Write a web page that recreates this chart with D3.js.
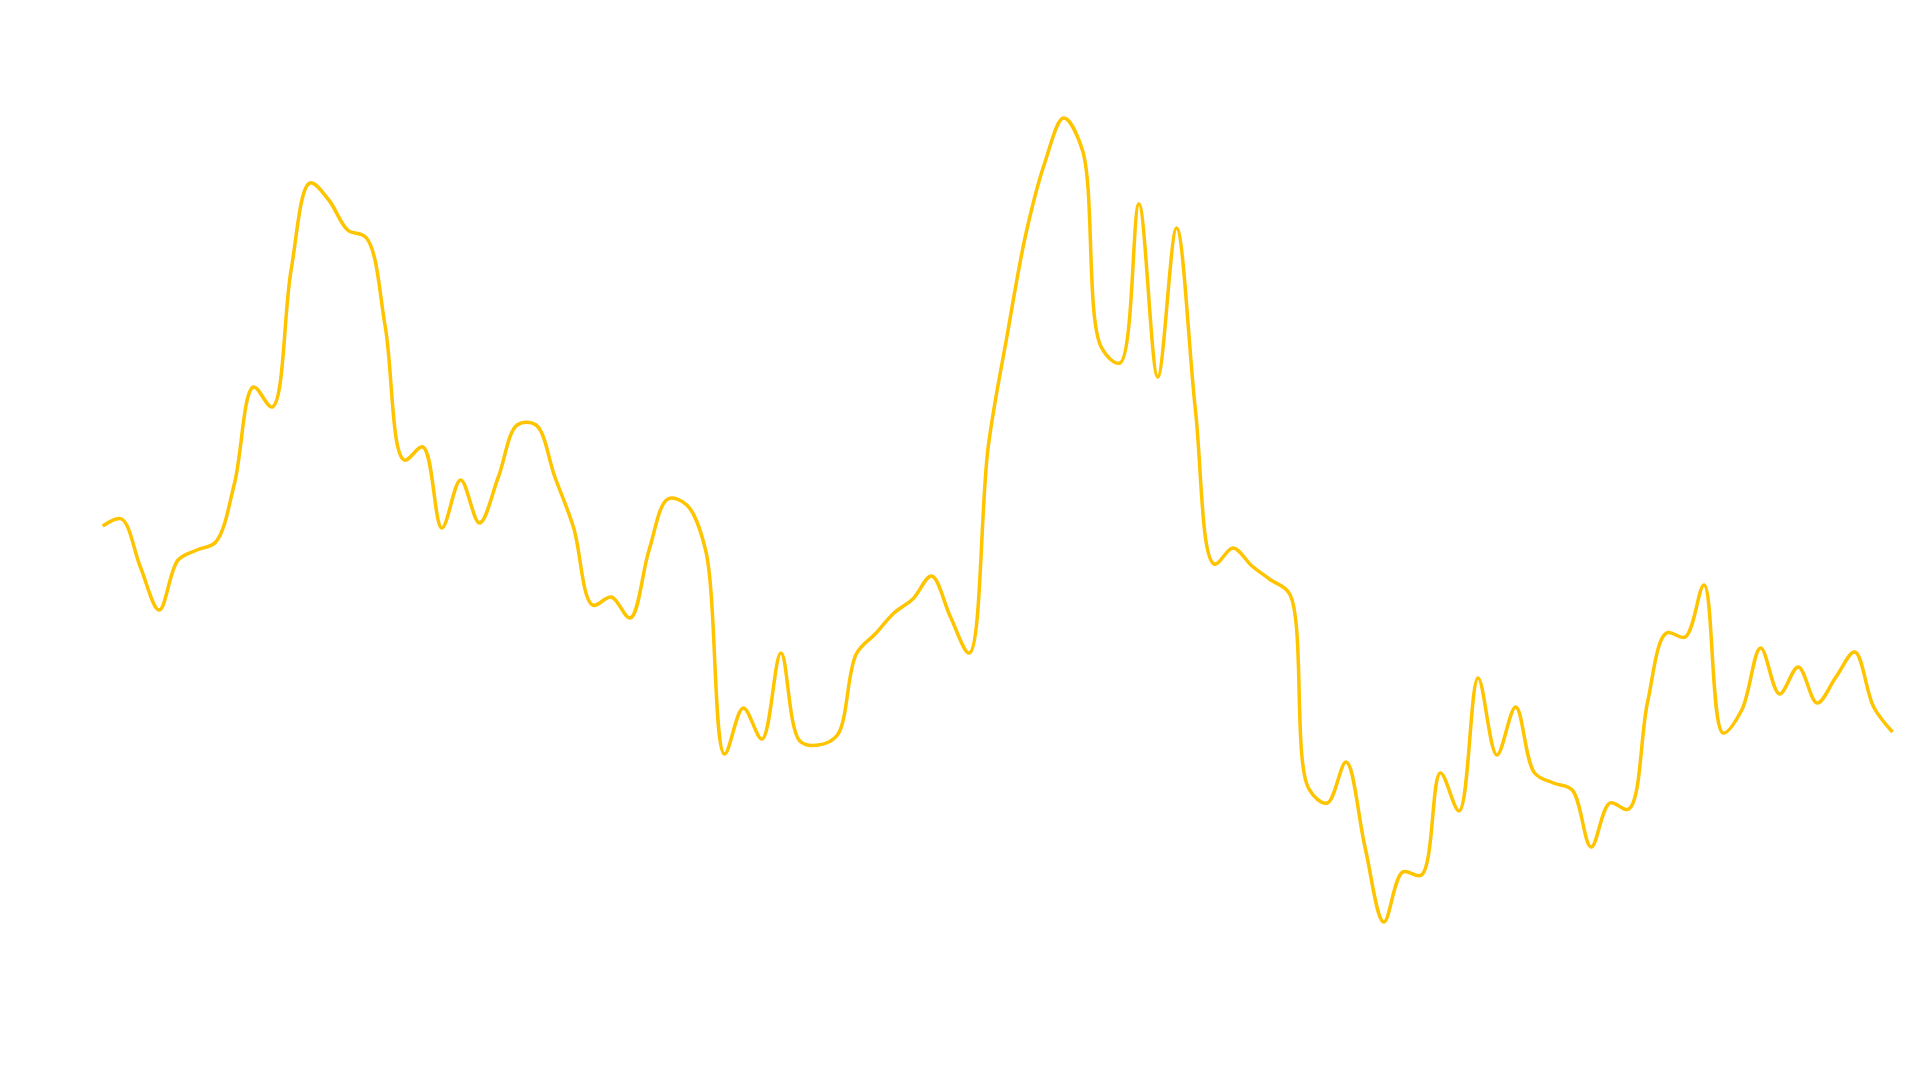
<!DOCTYPE html>
<html>
<head>
<meta charset="utf-8">
<script src="https://cdn.jsdelivr.net/npm/d3@7"></script>
<style>
  html, body { margin: 0; padding: 0; background: #ffffff; }
  svg { display: block; }
</style>
</head>
<body>
<svg id="line-chart"></svg>
<script>
// set svg size and plot margins
const width = 1920;
const height = 1080;

const margin = {
  top: 0,
  bottom: 80,
  left: 102.7,
  right: 27.5
};

// series values, one per step
const values = [
  47.4, 48.1, 43.3, 39.0, 44.0, 45.0, 45.8, 51.7, 61.3, 59.3,
  73.0, 81.7, 80.0, 77.0, 76.2, 67.3, 54.0, 55.3, 47.2, 52.0,
  47.7, 52.3, 57.5, 57.5, 52.3, 47.2, 39.5, 40.3, 38.2, 45.0,
  50.1, 49.5, 45.0, 24.6, 29.2, 26.1, 34.7, 25.9, 25.5, 26.5,
  34.6, 36.6, 38.7, 40.1, 42.4, 38.3, 34.7, 55.3, 66.4, 76.6,
  83.7, 88.2, 85.0, 65.3, 63.7, 79.6, 62.3, 77.2, 59.0, 43.6,
  45.2, 43.4, 42.0, 40.6, 21.2, 19.7, 23.8, 15.3, 7.8, 12.8,
  12.5, 22.7, 18.9, 32.2, 24.5, 29.3, 22.7, 21.7, 21.0, 15.3,
  19.7, 19.1, 29.8, 36.7, 36.3, 41.5, 26.7, 29.0, 35.2, 30.6,
  33.3, 29.7, 32.3, 34.8, 29.3, 26.8
];

const steps = d3.range(values.length);

const lineColor = '#ffc400';

const svg = d3.select('#line-chart')
              .attr('width', width)
              .attr('height', height);

const x = d3.scaleLinear()
            .domain(d3.extent(steps))
            .range([margin.left, width - margin.right]);

// 0..100 value range spread over the plot height
const y = d3.scaleLinear()
            .domain([0, 100])
            .range([1000, 0]);

const line = d3.line()
               .x(i => x(i))
               .y(i => y(values[i]))
               .curve(d3.curveCatmullRom);

svg.append('g')
   .attr('id', 'plot')
   .append('path')
   .datum(steps)
   .attr('d', line)
   .attr('fill', 'none')
   .attr('stroke', lineColor)
   .attr('stroke-width', 3.5)
   .attr('stroke-linejoin', 'round');
</script>
</body>
</html>
